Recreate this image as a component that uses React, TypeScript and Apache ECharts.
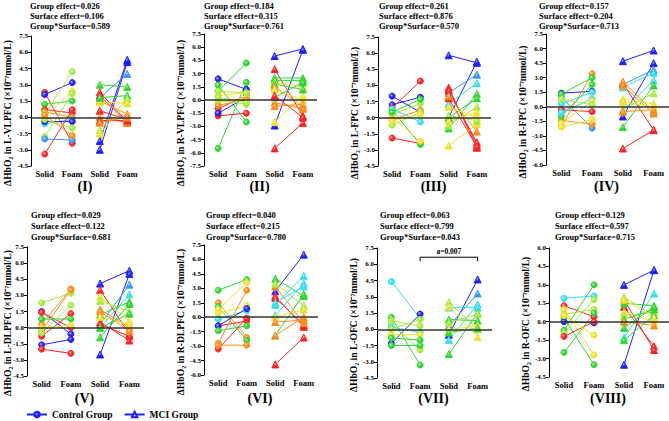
import React, { useEffect, useRef } from 'react';
import * as echarts from 'echarts';

// ---------- labels ----------
const categories = ['Solid', 'Foam', 'Solid', 'Foam'];
const regions = ['L-VLPFC', 'R-VLPFC', 'L-FPC', 'R-FPC', 'L-DLPFC', 'R-DLPFC', 'L-OFC', 'R-OFC'];
const romans = ['(I)', '(II)', '(III)', '(IV)', '(V)', '(VI)', '(VII)', '(VIII)'];
const groupEffect = ['0.026', '0.184', '0.261', '0.157', '0.029', '0.040', '0.063', '0.129'];
const surfaceEffect = ['0.106', '0.315', '0.876', '0.204', '0.122', '0.215', '0.799', '0.597'];
const interactionEffect = ['0.589', '0.761', '0.570', '0.713', '0.681', '0.780', '0.043', '0.715'];
const yMins = [-4.5, -7.5, -4.5, -6.0, -4.5, -6.0, -4.5, -4.5];
const yMaxs = [7.5, 7.5, 7.5, 7.5, 7.5, 7.5, 7.5, 6.0];
const legendNames = ['Control Group', 'MCI Group'];
// post-hoc bracket in panel VII: [from category, level, to category]
const bracketPanel = 6;
const bracketSpan = [1, 6.65, 3];
const bracketLabel = 'a=0.007';

// ---------- subject values (Solid / Foam) and hue codes ----------
// Panel I  L-VLPFC
const p1CtrlSolid = [2.3, 2.1, 1.2, 0.7, 0.5, 0.3, 0.0, -0.6, -0.4, -1.8, -2.0, -3.4, -0.2, 0.2];
const p1CtrlFoam = [-2.4, 3.2, 1.5, 0.4, 0.0, 4.2, 2.4, -0.2, -0.4, 2.2, -2.1, 0.7, -1.0, -1.7];
const p1CtrlHue = ['R', 'B', 'G', 'R', 'O', 'L', 'Y', 'C', 'B', 'L', 'A', 'R', 'L', 'O'];
const p1MciSolid = [-3.0, -2.2, 1.8, 3.0, 2.3, 2.0, 1.5, 1.4, 1.8, 0.6, 0.0, -0.3, -1.2, -1.5, -0.5];
const p1MciFoam = [5.1, 5.3, 4.0, 2.8, -0.4, -0.5, 0.3, 1.3, 2.0, -0.2, -0.5, -0.3, 1.7, 1.3, 0.0];
const p1MciHue = ['B', 'B', 'A', 'G', 'R', 'R', 'O', 'Y', 'G', 'R', 'O', 'R', 'L', 'Y', 'O'];
// Panel II  R-VLPFC
const p2CtrlSolid = [2.4, 1.7, 1.0, -5.5, -1.8, -1.0, -1.5, 0.5, -0.3, -0.6, 0.0, 1.0, 0.3];
const p2CtrlFoam = [1.2, -2.5, 4.2, 2.0, -1.5, 0.5, 0.3, 0.8, 0.3, 0.0, -0.5, 0.8, -0.3];
const p2CtrlHue = ['B', 'G', 'G', 'G', 'R', 'R', 'B', 'Y', 'Y', 'O', 'L', 'L', 'L'];
const p2MciSolid = [5.0, -2.9, 3.5, -5.5, -2.5, 2.5, 2.2, 2.0, 1.8, 1.5, 1.2, 0.3, -0.3, -0.7, 0.5];
const p2MciFoam = [5.8, 5.7, -1.8, -2.6, 0.5, 2.5, 2.2, 1.5, 1.2, -0.8, 0.0, 2.0, -1.0, -0.5, -2.0];
const p2MciHue = ['B', 'B', 'R', 'R', 'Y', 'G', 'G', 'Y', 'G', 'O', 'Y', 'G', 'O', 'O', 'R'];
// Panel III  L-FPC
const p3CtrlSolid = [2.0, 1.2, -1.9, 0.9, 0.7, 0.3, 0.0, -0.2, -0.7, 0.8, 0.5, -0.3];
const p3CtrlFoam = [0.5, 1.9, -2.4, 3.4, -2.5, 1.3, -2.2, 0.7, 0.5, -0.4, 1.7, 0.3];
const p3CtrlHue = ['B', 'B', 'R', 'R', 'G', 'L', 'Y', 'O', 'L', 'C', 'G', 'Y'];
const p3MciSolid = [5.8, 0.0, 2.3, 1.3, 2.8, 2.6, 2.5, 1.8, 2.0, -1.0, 0.0, -2.6, -0.7, -0.3, 1.0, 0.2];
const p3MciFoam = [5.1, 5.2, 4.0, 3.2, -2.8, -2.5, -2.3, -2.7, -1.3, 2.2, 1.8, -0.6, 1.0, 0.5, 0.0, -0.3];
const p3MciHue = ['B', 'B', 'A', 'C', 'R', 'R', 'R', 'R', 'O', 'G', 'G', 'Y', 'L', 'Y', 'Y', 'L'];
// Panel IV  R-FPC
const p4CtrlSolid = [1.4, 1.0, -0.3, -2.0, -1.4, 1.3, -1.0, 0.3, -0.6, -1.7, -2.1, 0.8];
const p4CtrlFoam = [1.6, -2.2, -0.5, 3.4, -1.8, 3.0, 2.3, 1.5, 0.8, 0.6, -1.3, 0.2];
const p4CtrlHue = ['B', 'A', 'R', 'O', 'O', 'G', 'G', 'C', 'C', 'Y', 'Y', 'L'];
const p4MciSolid = [4.7, -1.0, 2.3, 2.0, -0.4, -4.3, 2.4, 2.6, 2.2, -2.1, -0.3, 0.8, 0.5, -0.5];
const p4MciFoam = [5.8, 4.5, 3.8, 3.5, 2.7, -2.4, -2.4, -0.5, -0.7, 2.2, 1.4, 0.3, 0.0, -0.3];
const p4MciHue = ['B', 'B', 'A', 'C', 'C', 'R', 'R', 'O', 'O', 'G', 'L', 'Y', 'Y', 'O'];
// Panel V  L-DLPFC
const p5CtrlSolid = [2.3, 1.5, -1.6, 1.4, -2.0, -0.8, 0.3, -0.3, 0.8, 0.0, -0.5];
const p5CtrlFoam = [3.2, -0.6, -1.1, 0.0, -2.4, 1.3, 3.6, 3.5, 0.8, 0.2, 2.1];
const p5CtrlHue = ['L', 'B', 'B', 'R', 'R', 'R', 'O', 'O', 'G', 'Y', 'L'];
const p5MciSolid = [4.1, -2.5, 0.3, 0.0, 3.5, 0.5, 0.3, 2.9, 2.5, 1.2, -0.9, 1.7, 1.5, 1.0, 0.0];
const p5MciFoam = [5.3, 5.0, 4.0, 3.1, -0.6, -1.2, -0.8, 0.6, 1.5, 2.4, 2.2, 0.0, -0.3, 0.3, 1.3];
const p5MciHue = ['B', 'B', 'A', 'C', 'R', 'R', 'R', 'Y', 'L', 'G', 'G', 'O', 'O', 'Y', 'G'];
// Panel VI  R-DLPFC
const p6CtrlSolid = [2.8, 1.5, 1.1, 0.8, 0.4, -0.2, -0.9, -0.9, -1.4, -2.7, -3.3, -2.9];
const p6CtrlFoam = [3.9, -2.1, -2.4, 3.6, 1.2, 0.7, -0.4, 0.9, -0.9, 2.8, -0.1, -2.9];
const p6CtrlHue = ['G', 'O', 'G', 'Y', 'Y', 'C', 'R', 'B', 'G', 'O', 'R', 'O'];
const p6MciSolid = [2.7, -4.9, 2.2, 2.0, 3.2, 4.0, 3.5, -1.9, 1.3, 0.2, 1.5, 0.0, -0.5, -1.9];
const p6MciFoam = [6.5, -2.1, -1.0, -0.8, -0.6, 2.2, 1.2, 2.4, 4.3, 3.5, 3.2, 0.8, -0.3, 0.0];
const p6MciHue = ['B', 'R', 'R', 'R', 'O', 'G', 'L', 'G', 'C', 'C', 'C', 'Y', 'O', 'O'];
// Panel VII  L-OFC
const p7CtrlSolid = [4.4, -1.3, 1.1, 0.8, 0.5, 0.2, -0.5, -0.8, -1.5, 0.0];
const p7CtrlFoam = [1.0, 1.4, -3.3, 0.3, -1.9, -0.3, -0.5, -1.0, -1.5, 0.9];
const p7CtrlHue = ['C', 'B', 'G', 'L', 'L', 'C', 'Y', 'G', 'G', 'L'];
const p7MciSolid = [-0.5, 0.3, -1.0, 2.0, 2.5, 2.1, -2.3, 0.9, 0.6, 0.0, -0.3];
const p7MciFoam = [4.6, 3.3, 2.3, 2.0, 0.0, -0.7, 1.5, 0.8, 1.4, 0.3, 0.1];
const p7MciHue = ['B', 'A', 'C', 'C', 'L', 'Y', 'G', 'G', 'L', 'Y', 'G'];
// Panel VIII  R-OFC
const p8CtrlSolid = [1.9, 1.3, 1.0, 0.6, 0.3, 0.0, -0.7, -0.9, -1.2, -2.5, 0.5];
const p8CtrlFoam = [2.1, 0.4, -2.7, 1.0, -3.5, -0.1, 3.0, 1.8, 0.0, 0.7, -1.1];
const p8CtrlHue = ['C', 'R', 'Y', 'L', 'G', 'B', 'G', 'L', 'R', 'G', 'Y'];
const p8MciSolid = [3.0, -3.5, 1.2, 1.8, -1.3, 1.5, 2.0, 0.8, 0.5, 0.2, 0.0, -0.5, -1.5, 1.8];
const p8MciFoam = [4.2, 4.2, -2.0, -2.3, 2.3, 1.3, 0.5, 0.0, 0.8, 1.0, -0.3, 1.2, 0.5, 0.3];
const p8MciHue = ['B', 'B', 'R', 'R', 'C', 'G', 'L', 'Y', 'L', 'G', 'O', 'G', 'G', 'Y'];

const ctrlSolid = [p1CtrlSolid, p2CtrlSolid, p3CtrlSolid, p4CtrlSolid, p5CtrlSolid, p6CtrlSolid, p7CtrlSolid, p8CtrlSolid];
const ctrlFoam = [p1CtrlFoam, p2CtrlFoam, p3CtrlFoam, p4CtrlFoam, p5CtrlFoam, p6CtrlFoam, p7CtrlFoam, p8CtrlFoam];
const ctrlHue = [p1CtrlHue, p2CtrlHue, p3CtrlHue, p4CtrlHue, p5CtrlHue, p6CtrlHue, p7CtrlHue, p8CtrlHue];
const mciSolid = [p1MciSolid, p2MciSolid, p3MciSolid, p4MciSolid, p5MciSolid, p6MciSolid, p7MciSolid, p8MciSolid];
const mciFoam = [p1MciFoam, p2MciFoam, p3MciFoam, p4MciFoam, p5MciFoam, p6MciFoam, p7MciFoam, p8MciFoam];
const mciHue = [p1MciHue, p2MciHue, p3MciHue, p4MciHue, p5MciHue, p6MciHue, p7MciHue, p8MciHue];

// ---------- styling / layout ----------
const hueColor: Record<string, string> = {
  R: '#ff2222',
  O: '#ff8c1a',
  Y: '#f2e22a',
  L: '#a8ec3a',
  G: '#2fd62f',
  C: '#33e0ee',
  A: '#3399ff',
  B: '#1f1fff',
};
const FONT = '"Liberation Serif", "Times New Roman", serif';
const grids = [
  { left: 31, top: 36, width: 110, height: 130 },
  { left: 204, top: 34, width: 113, height: 132 },
  { left: 378, top: 37, width: 113, height: 129 },
  { left: 546, top: 34, width: 123, height: 131 },
  { left: 27, top: 247, width: 117, height: 129 },
  { left: 204, top: 245, width: 114, height: 130 },
  { left: 377, top: 248, width: 115, height: 130 },
  { left: 549, top: 248, width: 120, height: 129 },
];
const titleLeft = [30, 204, 379, 539, 31, 206, 380, 555];
const titleRowsTop = [5.5, 15.5, 25.5];
const titleRowsBottom = [215, 226, 237];

function lighten(c: string, k: number) {
  const n = parseInt(c.slice(1), 16);
  const r = (n >> 16) & 255;
  const g = (n >> 8) & 255;
  const b = n & 255;
  const f = (v: number) => Math.round(v + (255 - v) * k);
  return `rgb(${f(r)},${f(g)},${f(b)})`;
}

function fillFor(c: string) {
  return new echarts.graphic.RadialGradient(0.38, 0.38, 0.65, [
    { offset: 0, color: lighten(c, 0.65) },
    { offset: 0.55, color: c },
    { offset: 1, color: c },
  ]);
}

function buildOption() {
  const series: any[] = [];
  const xAxis: any[] = [];
  const yAxis: any[] = [];
  const graphic: any[] = [];

  for (let p = 0; p < 8; p++) {
    const g = grids[p];
    xAxis.push({
      type: 'category',
      gridIndex: p,
      data: categories,
      axisLine: { show: false },
      axisTick: { show: false },
      splitLine: { show: false },
      axisLabel: { interval: 0, fontSize: 8.5, fontWeight: 'bold', fontFamily: FONT, color: '#000', margin: 3 },
    });
    yAxis.push({
      type: 'value',
      gridIndex: p,
      min: yMins[p],
      max: yMaxs[p],
      interval: 1.5,
      axisLine: { show: true, lineStyle: { color: '#000', width: 1 } },
      axisTick: { show: true, length: 3, lineStyle: { color: '#000' } },
      splitLine: { show: false },
      axisLabel: {
        formatter: (v: number) => v.toFixed(1),
        fontSize: 7,
        fontWeight: 'bold',
        fontFamily: FONT,
        color: '#000',
        margin: 3,
      },
    });

    const groups = [
      { solid: ctrlSolid[p], foam: ctrlFoam[p], hue: ctrlHue[p], symbol: 'circle', size: 6, off: 0 },
      { solid: mciSolid[p], foam: mciFoam[p], hue: mciHue[p], symbol: 'triangle', size: 7, off: 2 },
    ];
    groups.forEach((grp) => {
      grp.solid.forEach((s, i) => {
        const c = hueColor[grp.hue[i]];
        series.push({
          type: 'line',
          xAxisIndex: p,
          yAxisIndex: p,
          data: [
            [grp.off, s],
            [grp.off + 1, grp.foam[i]],
          ],
          symbol: grp.symbol,
          symbolSize: grp.size,
          showSymbol: true,
          silent: true,
          lineStyle: { color: c, width: 1 },
          itemStyle: { color: fillFor(c), borderColor: c, borderWidth: 1 },
          z: 3,
        });
      });
    });

    series.push({
      type: 'line',
      xAxisIndex: p,
      yAxisIndex: p,
      data: [],
      silent: true,
      z: 5,
      markLine: {
        silent: true,
        symbol: 'none',
        label: { show: false },
        lineStyle: { color: '#333', width: 1.6, type: 'solid' },
        data: [{ yAxis: 0 }],
      },
    });

    // titles
    const rows = p < 4 ? titleRowsTop : titleRowsBottom;
    const lines = [
      'Group effect=' + groupEffect[p],
      'Surface effect=' + surfaceEffect[p],
      'Group*Surface=' + interactionEffect[p],
    ];
    lines.forEach((t, k) => {
      graphic.push({
        type: 'text',
        x: titleLeft[p],
        y: rows[k],
        silent: true,
        style: { text: t, font: 'bold 8.5px ' + FONT, fill: '#000', align: 'left', verticalAlign: 'middle' },
      });
    });
    // y-axis name
    graphic.push({
      type: 'text',
      x: Math.max(g.left - 24, 7),
      y: g.top + g.height - 53,
      rotation: Math.PI / 2,
      silent: true,
      style: {
        text: 'ΔHbO₂ in ' + regions[p] + ' (×10⁻⁷mmol/L)',
        font: 'bold 9.6px ' + FONT,
        fill: '#000',
        align: 'center',
        verticalAlign: 'middle',
      },
    });
    // panel numeral
    graphic.push({
      type: 'text',
      x: g.left + g.width / 2 - 1,
      y: p < 4 ? 186 : 398,
      silent: true,
      style: { text: romans[p], font: 'bold 14px ' + FONT, fill: '#000', align: 'center', verticalAlign: 'middle' },
    });
  }

  // bracket annotation
  series.push({
    type: 'custom',
    xAxisIndex: bracketPanel,
    yAxisIndex: bracketPanel,
    data: [bracketSpan],
    silent: true,
    z: 6,
    renderItem: (params: any, api: any) => {
      const a = api.coord([api.value(0), api.value(1)]);
      const b = api.coord([api.value(2), api.value(1)]);
      return {
        type: 'group',
        children: [
          {
            type: 'polyline',
            shape: { points: [[a[0], a[1] + 4], [a[0], a[1]], [b[0], b[1]], [b[0], b[1] + 4]] },
            style: { stroke: '#000', lineWidth: 1, fill: null },
          },
          {
            type: 'text',
            x: (a[0] + b[0]) / 2,
            y: a[1] - 1.5,
            style: { text: bracketLabel, font: 'bold 7.5px ' + FONT, fill: '#000', align: 'center', verticalAlign: 'bottom' },
          },
        ],
      };
    },
  });

  // legend dummy series
  series.push({
    name: legendNames[0],
    type: 'line',
    xAxisIndex: 0,
    yAxisIndex: 0,
    data: [],
    symbol: 'circle',
    symbolSize: 7,
    lineStyle: { color: '#1f1fff', width: 1.5 },
    itemStyle: { color: fillFor('#1f1fff'), borderColor: '#1f1fff', borderWidth: 1.2 },
  });
  series.push({
    name: legendNames[1],
    type: 'line',
    xAxisIndex: 0,
    yAxisIndex: 0,
    data: [],
    symbol: 'triangle',
    symbolSize: 7,
    lineStyle: { color: '#1f1fff', width: 1.5 },
    itemStyle: { color: '#c8d4ff', borderColor: '#1f1fff', borderWidth: 1.2 },
  });

  return {
    animation: false,
    backgroundColor: '#ffffff',
    grid: grids.map((g) => ({ ...g, containLabel: false })),
    xAxis,
    yAxis,
    series,
    graphic,
    legend: {
      data: legendNames,
      left: 26,
      top: 409,
      padding: 0,
      itemWidth: 20,
      itemHeight: 7,
      itemGap: 11,
      selectedMode: false,
      textStyle: { fontFamily: FONT, fontWeight: 'bold', fontSize: 9.5, color: '#000', lineHeight: 11 },
    },
  };
}

export default function App() {
  const ref = useRef<HTMLDivElement>(null);
  useEffect(() => {
    if (!ref.current) return;
    const chart = echarts.init(ref.current, undefined, { renderer: 'svg' });
    chart.setOption(buildOption() as any);
    return () => {
      chart.dispose();
    };
  }, []);
  return (
    <div
      ref={ref}
      style={{ position: 'absolute', left: 0, top: 0, width: 669, height: 421, background: '#fff' }}
    />
  );
}
